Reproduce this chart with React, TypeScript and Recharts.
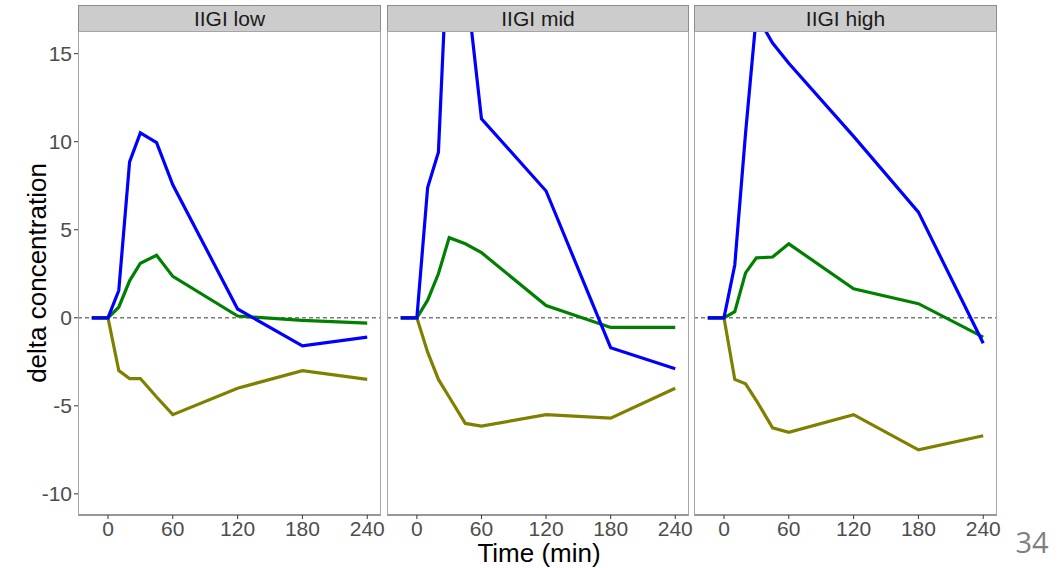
import React from 'react';
import { LineChart, Line, XAxis, YAxis, ReferenceLine } from 'recharts';

const times = [-15, 0, 10, 20, 30, 45, 60, 120, 180, 240];
const panels = ['IIGI low', 'IIGI mid', 'IIGI high'];
const xTicks = [0, 60, 120, 180, 240];
const yTicks = [-10, -5, 0, 5, 10, 15];

const lowBlue = [0, 0, 1.55, 8.85, 10.5, 9.95, 7.55, 0.5, -1.6, -1.1];
const lowGreen = [0, 0, 0.6, 2.1, 3.1, 3.55, 2.35, 0.1, -0.15, -0.3];
const lowOlive = [0, 0, -3.0, -3.45, -3.45, -4.5, -5.5, -4.0, -3.0, -3.5];

const midBlue = [0, 0, 7.4, 9.4, 23, 19.5, 11.3, 7.2, -1.7, -2.9];
const midGreen = [0, 0, 1.0, 2.5, 4.55, 4.2, 3.7, 0.7, -0.55, -0.55];
const midOlive = [0, 0, -1.95, -3.5, -4.5, -6.0, -6.15, -5.5, -5.7, -4.0];

const highBlue = [0, 0, 3.0, 10.5, 17.2, 15.6, 14.45, 10.3, 6.0, -1.45];
const highGreen = [0, 0, 0.35, 2.55, 3.4, 3.45, 4.2, 1.65, 0.8, -1.1];
const highOlive = [0, 0, -3.5, -3.75, -4.7, -6.25, -6.5, -5.5, -7.5, -6.7];

const series = [
  [lowBlue, lowGreen, lowOlive],
  [midBlue, midGreen, midOlive],
  [highBlue, highGreen, highOlive],
];

const rows = (i: number) =>
  times.map((t, k) => ({
    t,
    blue: series[i][0][k],
    green: series[i][1][k],
    olive: series[i][2][k],
  }));

// plot area x positions of each facet
const plotLeft = [78, 387, 694];
const plotWidth = [303, 302, 303];
const plotTop = 32;
const plotBottom = 515;

const tickStyle = { fill: '#4d4d4d', fontSize: 20 };

function Panel({ i }: { i: number }) {
  const first = i === 0;
  const yw = first ? 78 : 0;
  const left = plotLeft[i] - yw;
  const width = plotWidth[i] + yw + 10;
  return (
    <div style={{ position: 'absolute', left, top: 0 }}>
      <LineChart
        width={width}
        height={568}
        data={rows(i)}
        margin={{ top: plotTop, right: 10, left: 0, bottom: 0 }}
        style={{ overflow: 'visible' }}
      >
        <XAxis
          dataKey="t"
          type="number"
          domain={[-27.75, 252.75]}
          ticks={xTicks}
          allowDataOverflow
          height={568 - plotBottom}
          tick={{ ...tickStyle, fontSize: 21 }}
          tickSize={4}
          tickMargin={2}
          axisLine={{ stroke: '#333333', strokeWidth: 1.2 }}
          tickLine={{ stroke: '#333333' }}
        />
        <YAxis
          type="number"
          domain={[-11.2, 16.23]}
          ticks={yTicks}
          allowDataOverflow
          hide={!first}
          width={yw}
          tick={{ ...tickStyle, fontSize: 21 }}
          tickSize={4}
          tickMargin={2}
          axisLine={false}
          tickLine={{ stroke: '#333333' }}
        />
        <ReferenceLine y={0} stroke="#7a7a7a" strokeWidth={1.6} strokeDasharray="4 3" />
        <Line type="linear" dataKey="olive" stroke="#808000" strokeWidth={3.2} dot={false} isAnimationActive={false} />
        <Line type="linear" dataKey="green" stroke="#008000" strokeWidth={3.2} dot={false} isAnimationActive={false} />
        <Line type="linear" dataKey="blue" stroke="#0000ff" strokeWidth={3.2} dot={false} isAnimationActive={false} />
      </LineChart>
    </div>
  );
}

export default function App() {
  return (
    <div
      style={{
        position: 'absolute',
        left: 0,
        top: 0,
        width: 1061,
        height: 568,
        background: '#ffffff',
        fontFamily: '"Liberation Sans", Arial, sans-serif',
        overflow: 'hidden',
      }}
    >
      {panels.map((name, i) => (
        <Panel key={name} i={i} />
      ))}
      {panels.map((name, i) => (
        <React.Fragment key={'f' + name}>
          <div
            style={{
              position: 'absolute',
              left: plotLeft[i],
              top: 5,
              width: plotWidth[i],
              height: plotTop - 5,
              background: '#cccccc',
              border: '1px solid #8c8c8c',
              boxSizing: 'border-box',
              display: 'flex',
              alignItems: 'center',
              justifyContent: 'center',
              fontSize: 21,
              color: '#1a1a1a',
            }}
          >
            {name}
          </div>
          <div
            style={{
              position: 'absolute',
              left: plotLeft[i],
              top: plotTop - 1,
              width: plotWidth[i],
              height: plotBottom - plotTop + 1,
              border: '1px solid #a6a6a6',
              borderBottom: 'none',
              boxSizing: 'border-box',
              pointerEvents: 'none',
            }}
          />
        </React.Fragment>
      ))}
      <div
        style={{
          position: 'absolute',
          left: 37,
          top: 273,
          transform: 'translate(-50%, -50%) rotate(-90deg)',
          whiteSpace: 'nowrap',
          fontSize: 26,
          lineHeight: 1,
          color: '#000000',
        }}
      >
        delta concentration
      </div>
      <div
        style={{
          position: 'absolute',
          left: 539,
          top: 553,
          transform: 'translate(-50%, -50%)',
          whiteSpace: 'nowrap',
          fontSize: 26,
          lineHeight: 1,
          color: '#000000',
        }}
      >
        Time (min)
      </div>
      <div
        style={{
          position: 'absolute',
          left: 1032,
          top: 541,
          transform: 'translate(-50%, -50%)',
          fontSize: 29,
          lineHeight: 1,
          color: '#7f7f7f',
          fontFamily: '"Open Sans", sans-serif',
        }}
      >
        34
      </div>
    </div>
  );
}
